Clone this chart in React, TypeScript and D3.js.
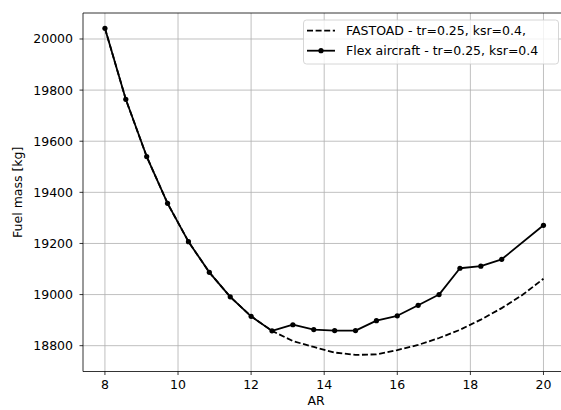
import React from "react";
import * as d3 from "d3";

const arValues = [8, 8.571, 9.143, 9.714, 10.286, 10.857, 11.429, 12, 12.571, 13.143, 13.714, 14.286, 14.857, 15.429, 16, 16.571, 17.143, 17.714, 18.286, 18.857, 19.429, 20];
const fastoadFuel = [20042, 19764, 19540, 19357, 19207, 19087, 18991, 18915, 18858, 18818, 18795, 18773, 18764, 18766, 18783, 18803, 18830, 18862, 18902, 18947, 18999, 19062];
const flexAR = [8, 8.571, 9.143, 9.714, 10.286, 10.857, 11.429, 12, 12.571, 13.143, 13.714, 14.286, 14.857, 15.429, 16, 16.571, 17.143, 17.714, 18.286, 18.857, 20];
const flexFuel = [20042, 19764, 19540, 19357, 19207, 19087, 18991, 18915, 18858, 18882, 18863, 18859, 18859, 18898, 18917, 18958, 19000, 19103, 19111, 19138, 19271];
const xTicks = [8, 10, 12, 14, 16, 18, 20];
const yTicks = [18800, 19000, 19200, 19400, 19600, 19800, 20000];
const legendLabels = ["FASTOAD - tr=0.25, ksr=0.4,", "Flex aircraft - tr=0.25, ksr=0.4"];

export default function App() {
  const W = 561, H = 410;
  const left = 83, top = 13, bottom = 371.5, right = 565.4;
  const x = d3.scaleLinear().domain([7.4, 20.6]).range([left, right]);
  const y = d3.scaleLinear().domain([18699, 20101.7]).range([bottom, top]);
  const font = "DejaVu Sans, sans-serif";
  const fs = 12.5;
  const lw = 1.8;
  const dash = "6,2.6";

  const dashedLine = d3.line<number>().x((_, i) => x(arValues[i])).y((d) => y(d));
  const flexLine = d3.line<number>().x((_, i) => x(flexAR[i])).y((d) => y(d));

  return (
    <svg width={W} height={H} style={{ position: "absolute", left: 0, top: 0, background: "#fff" }} fontFamily={font}>
      <rect x={0} y={0} width={W} height={H} fill="#fff" />
      {xTicks.map((t) => (
        <line key={"gx" + t} x1={x(t)} x2={x(t)} y1={top} y2={bottom} stroke="#b0b0b0" strokeWidth={0.8} />
      ))}
      {yTicks.map((t) => (
        <line key={"gy" + t} x1={left} x2={right} y1={y(t)} y2={y(t)} stroke="#b0b0b0" strokeWidth={0.8} />
      ))}
      <path d={dashedLine(fastoadFuel) || ""} fill="none" stroke="#000" strokeWidth={lw} strokeDasharray={dash} />
      <path d={flexLine(flexFuel) || ""} fill="none" stroke="#000" strokeWidth={lw} strokeLinejoin="round" />
      {flexFuel.map((v, i) => (
        <circle key={"m" + i} cx={x(flexAR[i])} cy={y(v)} r={2.6} fill="#000" />
      ))}
      <line x1={left} x2={left} y1={top} y2={bottom} stroke="#000" strokeWidth={0.8} />
      <line x1={left} x2={W} y1={bottom} y2={bottom} stroke="#000" strokeWidth={0.8} />
      <line x1={left} x2={W} y1={top} y2={top} stroke="#000" strokeWidth={0.8} />
      {xTicks.map((t) => (
        <g key={"tx" + t}>
          <line x1={x(t)} x2={x(t)} y1={bottom} y2={bottom + 3.5} stroke="#000" strokeWidth={0.8} />
          <text x={x(t)} y={bottom + 8} fontSize={fs} textAnchor="middle" dominantBaseline="hanging" fill="#000">{t}</text>
        </g>
      ))}
      {yTicks.map((t) => (
        <g key={"ty" + t}>
          <line x1={left - 3.5} x2={left} y1={y(t)} y2={y(t)} stroke="#000" strokeWidth={0.8} />
          <text x={left - 10} y={y(t)} fontSize={fs} textAnchor="end" dominantBaseline="central" fill="#000">{t}</text>
        </g>
      ))}
      <text x={(left + right) / 2 - 8} y={405} fontSize={fs} textAnchor="middle" fill="#000">AR</text>
      <text transform={`translate(22,${(top + bottom) / 2}) rotate(-90)`} fontSize={fs} textAnchor="middle" fill="#000">Fuel mass [kg]</text>
      <rect x={303.5} y={20} width={255} height={44} rx={3} fill="#fff" fillOpacity={0.8} stroke="#cccccc" strokeWidth={0.8} />
      <line x1={307} x2={335} y1={30.7} y2={30.7} stroke="#000" strokeWidth={lw} strokeDasharray={dash} />
      <line x1={307} x2={335} y1={50.7} y2={50.7} stroke="#000" strokeWidth={lw} />
      <circle cx={321} cy={50.7} r={2.6} fill="#000" />
      <text x={346} y={30.7} fontSize={fs} dominantBaseline="central" fill="#000">{legendLabels[0]}</text>
      <text x={346} y={50.7} fontSize={fs} dominantBaseline="central" fill="#000">{legendLabels[1]}</text>
    </svg>
  );
}
